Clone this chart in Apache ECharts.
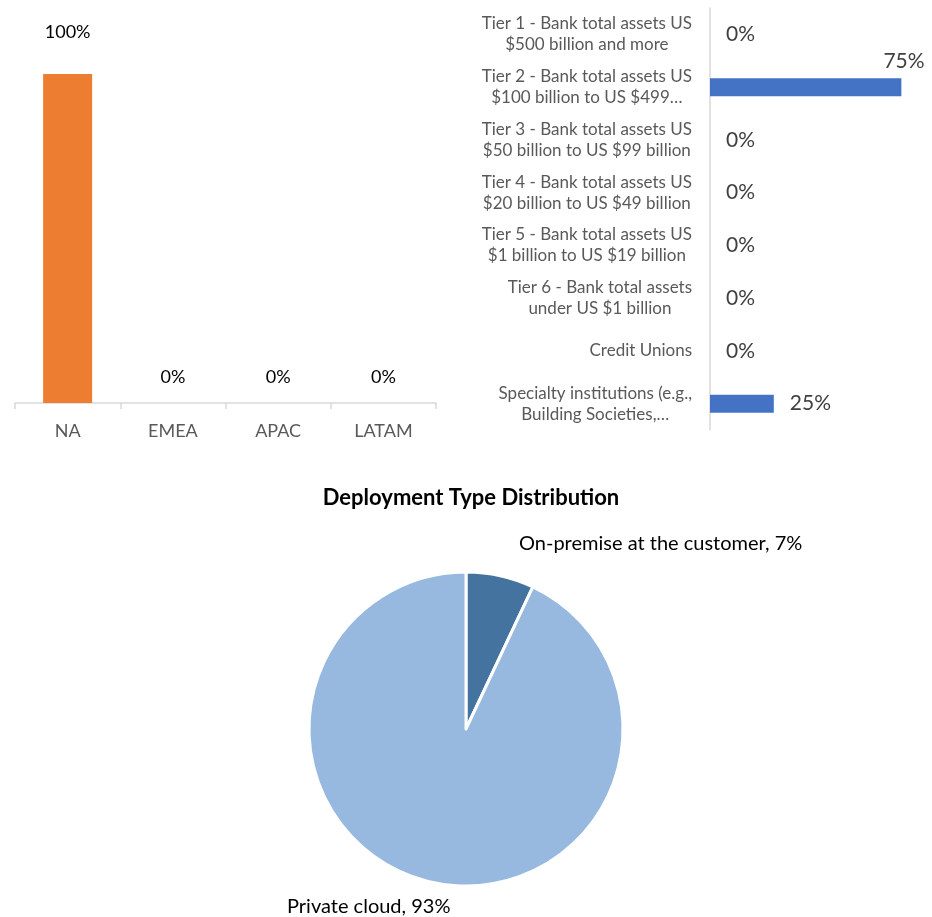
<!DOCTYPE html>
<html>
<head>
<meta charset="utf-8">
<script src="https://cdn.jsdelivr.net/npm/echarts@6/dist/echarts.min.js"></script>
<style>
  html, body { margin: 0; padding: 0; background: #fff; }
  #chart { width: 932px; height: 917px; }
</style>
</head>
<body>
<div id="chart"></div>
<script>
// Regional split of respondents
const regions = ['NA', 'EMEA', 'APAC', 'LATAM'];
const regionShare = [100, 0, 0, 0];

// Institution size tiers (labels as displayed, wrapped and shortened)
const tiers = [
  'Tier 1 - Bank total assets US\n$500 billion and more',
  'Tier 2 - Bank total assets US\n$100 billion to US $499…',
  'Tier 3 - Bank total assets US\n$50 billion to US $99 billion',
  'Tier 4 - Bank total assets US\n$20 billion to US $49 billion',
  'Tier 5 - Bank total assets US\n$1 billion to US $19 billion',
  'Tier 6 - Bank total assets\nunder US $1 billion',
  'Credit Unions',
  'Specialty institutions (e.g.,\nBuilding Societies,…'
];
const tierShare = [0, 75, 0, 0, 0, 0, 0, 25];

// Deployment types
const deployNames = ['On-premise at the customer', 'Private cloud'];
const deployShare = [7, 93];

const FONT = 'Lato';
const chart = echarts.init(document.getElementById('chart'), null, { renderer: 'canvas' });

const regionData = regionShare.map((v) => ({
  value: v,
  label: { distance: v > 0 ? 33 : 17 }
}));

const tierData = tierShare.map((v, i) => {
  const d = { value: v };
  if (i === 1) d.label = { offset: [-34, -26] };
  return d;
});

chart.setOption({
  animation: false,
  textStyle: { fontFamily: FONT },
  title: {
    text: 'Deployment Type Distribution',
    left: 466, top: 482, textAlign: 'center',
    textStyle: { fontFamily: FONT, fontSize: 22, fontWeight: 'bold', color: '#000' }
  },
  grid: [
    { left: 15, top: 74, width: 421, height: 329 },
    { left: 710, top: 8, right: 0, height: 422 }
  ],
  xAxis: [
    {
      gridIndex: 0, type: 'category', data: regions,
      axisLine: { lineStyle: { color: '#D9D9D9', width: 1.5 } },
      axisTick: { show: true, length: 6, lineStyle: { color: '#D9D9D9', width: 1.5 } },
      axisLabel: { color: '#595959', fontSize: 18, fontFamily: FONT, margin: 19 }
    },
    {
      // axis runs off the right edge; the visible part reaches 87%
      gridIndex: 1, type: 'value', min: 0, max: 87, show: false
    }
  ],
  yAxis: [
    { gridIndex: 0, type: 'value', min: 0, max: 100, show: false },
    {
      gridIndex: 1, type: 'category', data: tiers, inverse: true,
      axisLine: { lineStyle: { color: '#D9D9D9', width: 1.5 } },
      axisTick: { show: false },
      axisLabel: {
        margin: 18,
        formatter: (s) => s.split('\n').map(l => '{c|' + l + '}').join('\n'),
        rich: { c: { align: 'center', color: '#595959', fontSize: 17, fontFamily: FONT, lineHeight: 21 } }
      }
    }
  ],
  series: [
    {
      type: 'bar', xAxisIndex: 0, yAxisIndex: 0,
      data: regionData, barWidth: 49,
      itemStyle: { color: '#ED7D31' },
      label: {
        show: true, position: 'top', formatter: '{c}%',
        color: '#000', fontSize: 18, fontFamily: FONT
      }
    },
    {
      type: 'bar', xAxisIndex: 1, yAxisIndex: 1,
      data: tierData, barWidth: 18,
      itemStyle: { color: '#4472C4' },
      label: {
        show: true, position: 'right', distance: 16, formatter: '{c}%',
        color: '#404040', fontSize: 21, fontFamily: FONT
      }
    },
    {
      type: 'pie',
      center: [466, 729], radius: 157,
      startAngle: 90, clockwise: true,
      data: deployNames.map((n, i) => ({ name: n, value: deployShare[i] })),
      itemStyle: { borderColor: '#fff', borderWidth: 3 },
      color: ['#44739F', '#98B9DF'],
      label: {
        show: true, position: 'outside', formatter: '{b}, {c}%',
        color: '#000', fontSize: 20, fontFamily: FONT
      },
      labelLine: { show: false },
      labelLayout: (p) => p.dataIndex === 0
        ? { x: 519, y: 544, align: 'left', verticalAlign: 'middle' }
        : { x: 287, y: 907, align: 'left', verticalAlign: 'middle' }
    }
  ]
});
</script>
</body>
</html>
